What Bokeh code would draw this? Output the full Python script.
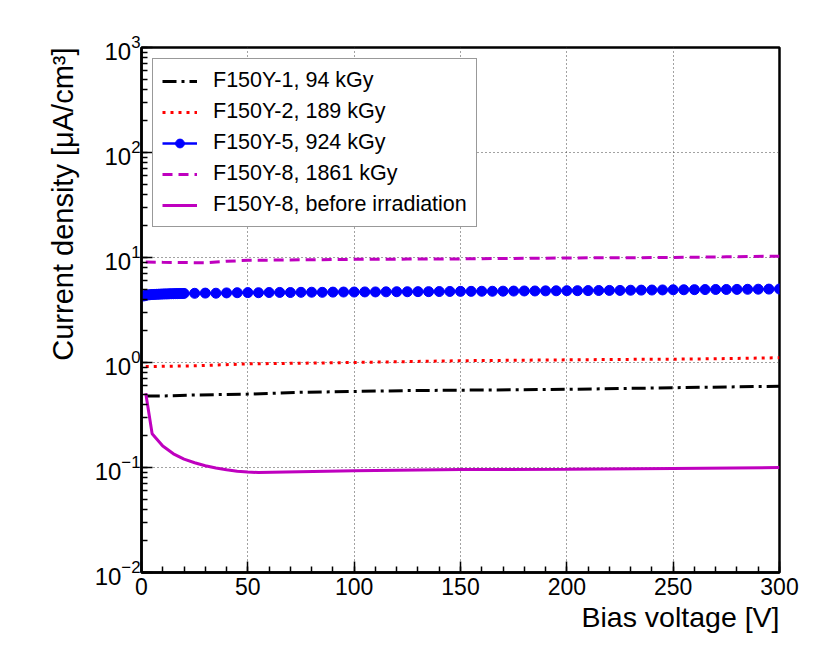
from bokeh.plotting import figure
from bokeh.models import Legend, LegendItem, LogTicker, SingleIntervalTicker, Title
from bokeh.embed import file_html
from bokeh.resources import INLINE

# ---------------- data ----------------
v_94 = [2, 10, 25, 50, 75, 100, 125, 150, 175, 200, 225, 250, 275, 300]
j_94 = [0.48, 0.48, 0.49, 0.50, 0.52, 0.53, 0.54, 0.545, 0.55, 0.555, 0.565, 0.575, 0.585, 0.594]

v_189 = [2, 25, 50, 75, 100, 125, 150, 175, 200, 225, 250, 275, 300]
j_189 = [0.915, 0.93, 0.97, 0.985, 1.0, 1.02, 1.04, 1.05, 1.06, 1.07, 1.075, 1.09, 1.11]

v_924 = [1, 2, 3, 4, 5, 6, 7, 8, 9, 10, 11, 12, 13, 14, 15, 16, 17, 18, 19, 20,
         25, 30, 35, 40, 45, 50, 55, 60, 65, 70, 75, 80, 85, 90, 95, 100,
         105, 110, 115, 120, 125, 130, 135, 140, 145, 150, 155, 160, 165, 170,
         175, 180, 185, 190, 195, 200, 205, 210, 215, 220, 225, 230, 235, 240,
         245, 250, 255, 260, 265, 270, 275, 280, 285, 290, 295, 300]
j_924 = [4.30, 4.36, 4.40, 4.42, 4.44, 4.45, 4.46, 4.47, 4.48, 4.49, 4.50, 4.50,
         4.51, 4.52, 4.52, 4.53, 4.53, 4.54, 4.54, 4.55,
         4.56, 4.58, 4.57, 4.60, 4.62, 4.63, 4.62, 4.64, 4.65, 4.64, 4.66, 4.67,
         4.66, 4.68, 4.69, 4.69, 4.70, 4.70, 4.71, 4.72, 4.72, 4.73, 4.73, 4.74,
         4.75, 4.76, 4.76, 4.77, 4.77, 4.78, 4.79, 4.80, 4.80, 4.81, 4.82, 4.83,
         4.83, 4.84, 4.85, 4.86, 4.86, 4.88, 4.89, 4.90, 4.91, 4.93, 4.93, 4.94,
         4.95, 4.96, 4.96, 4.97, 4.98, 4.99, 5.00, 5.01]

v_1861 = [2, 10, 20, 30, 40, 50, 75, 100, 125, 150, 175, 200, 225, 250, 275, 300]
j_1861 = [9.05, 9.0, 8.95, 8.9, 9.2, 9.4, 9.5, 9.6, 9.65, 9.7, 9.8, 9.9, 9.95, 10.0, 10.15, 10.3]

v_pre = [2, 5, 10, 15, 20, 25, 30, 35, 40, 45, 50, 55, 100, 150, 200, 250, 300]
j_pre = [0.51, 0.21, 0.16, 0.135, 0.12, 0.111, 0.104, 0.099, 0.095, 0.092, 0.0905,
         0.0895, 0.093, 0.0955, 0.096, 0.098, 0.1]

labels = ["F150Y-1, 94 kGy", "F150Y-2, 189 kGy", "F150Y-5, 924 kGy",
          "F150Y-8, 1861 kGy", "F150Y-8, before irradiation"]
x_title = "Bias voltage [V]"
y_title = "Current density [μA/cm³]"

FONT = "Liberation Sans"
MAG = "#bf00bf"

p = figure(width=830, height=664, y_axis_type="log",
           x_range=(0, 300), y_range=(1e-2, 1e3),
           output_backend="svg", toolbar_location=None,
           min_border_left=141, min_border_right=51,
           min_border_top=47, min_border_bottom=92)
p.frame_width = 638
p.frame_height = 525

p.background_fill_color = "white"
p.border_fill_color = "white"
p.outline_line_color = "black"
p.outline_line_width = 2.5

r1 = p.line(v_94, j_94, line_color="black", line_width=3, line_dash="14 5 3 5")
r2 = p.line(v_189, j_189, line_color="#ff0000", line_width=3, line_dash="3 5")
r3a = p.line(v_924, j_924, line_color="#0000ff", line_width=2.5)
r3b = p.scatter(v_924, j_924, marker="circle", size=10, fill_color="#0000ff", line_color="#0000ff")
r4 = p.line(v_1861, j_1861, line_color=MAG, line_width=3, line_dash="10 6")
r5 = p.line(v_pre, j_pre, line_color=MAG, line_width=3)

# axes
p.xaxis.ticker = SingleIntervalTicker(interval=50, num_minor_ticks=5)
p.yaxis.ticker = LogTicker(num_minor_ticks=10)
for ax in (p.xaxis[0], p.yaxis[0]):
    ax.axis_line_width = 2.5
    ax.axis_line_color = "black"
    ax.major_tick_in = 11
    ax.major_tick_out = 0
    ax.minor_tick_in = 6
    ax.minor_tick_out = 0
    ax.major_tick_line_width = 1.5
    ax.minor_tick_line_width = 1.5
    ax.major_label_text_font = FONT
    ax.major_label_text_color = "black"
p.xaxis.major_label_text_font_size = "23px"
p.yaxis.major_label_text_font_size = "24px"
p.xaxis.major_label_standoff = 5
p.yaxis.major_label_standoff = 1

# axis titles as side-panel titles so they can be right/top aligned
xt = Title(text=x_title, align="right", text_font=FONT, text_font_size="28.5px",
           text_font_style="normal", text_color="black", standoff=2, offset=0)
yt = Title(text=y_title, align="right", text_font=FONT, text_font_size="29px",
           text_font_style="normal", text_color="black", standoff=25, offset=0)
p.add_layout(xt, "below")
p.add_layout(yt, "left")

# grid
for g in (p.xgrid[0], p.ygrid[0]):
    g.grid_line_color = "#444444"
    g.grid_line_width = 1
    g.grid_line_dash = "1 3"

legend = Legend(items=[
    LegendItem(label=labels[0], renderers=[r1]),
    LegendItem(label=labels[1], renderers=[r2]),
    LegendItem(label=labels[2], renderers=[r3a, r3b]),
    LegendItem(label=labels[3], renderers=[r4]),
    LegendItem(label=labels[4], renderers=[r5]),
], location="top_left")
legend.margin = 11
legend.padding = 9
legend.spacing = 6
legend.glyph_width = 35
legend.glyph_height = 22
legend.label_standoff = 16
legend.label_text_font = FONT
legend.label_text_font_size = "21.5px"
legend.label_text_color = "black"
legend.border_line_color = "#333333"
legend.border_line_width = 1.5
legend.background_fill_color = "white"
legend.background_fill_alpha = 1.0
p.add_layout(legend)

open("out.html", "w").write(file_html(p, INLINE))
